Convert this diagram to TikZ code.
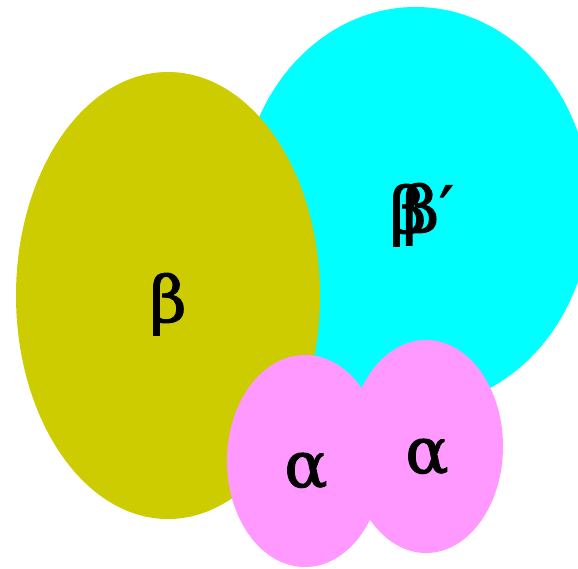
\documentclass[tikz,border=0pt]{standalone}
\usepackage{fontspec}
\setmainfont{DejaVu Serif}
\newfontfamily\greekfont{DejaVu Serif}[FakeBold=1.6]
\usetikzlibrary{shapes.geometric}
\definecolor{oliveset}{HTML}{CCCC00}
\definecolor{cyanset}{HTML}{00FFFF}
\definecolor{pinkset}{HTML}{FF99FF}

\begin{document}
\begin{tikzpicture}[x=1pt, y=-1pt,
    blob/.style={ellipse, inner sep=0pt, draw=none},
    greek/.style={anchor=base, inner sep=0pt, font=\greekfont\fontsize{64}{68}\selectfont}
]
    \useasboundingbox (0,0) rectangle (578,568);

    % Sets
    \node[blob, fill=cyanset, minimum width=350pt, minimum height=400pt] (setB2) at (415.5, 207) {};
    \node[blob, fill=oliveset, minimum width=304pt, minimum height=447pt] (setB) at (168, 295.5) {};
    \node[blob, fill=pinkset, minimum width=156pt, minimum height=212pt] (setA1) at (305, 461) {};
    \node[blob, fill=pinkset, minimum width=154pt, minimum height=213pt] (setA2) at (426, 446.5) {};

    % Labels
    \node[greek] (labB) at (168, 322) {β};
    \node[greek] (labB1) at (408, 233) {β};
    \node[greek] (labB2) at (428, 232) {β′};
    \node[greek] (labA1) at (306, 487) {α};
    \node[greek] (labA2) at (427, 473) {α};
\end{tikzpicture}
\end{document}
